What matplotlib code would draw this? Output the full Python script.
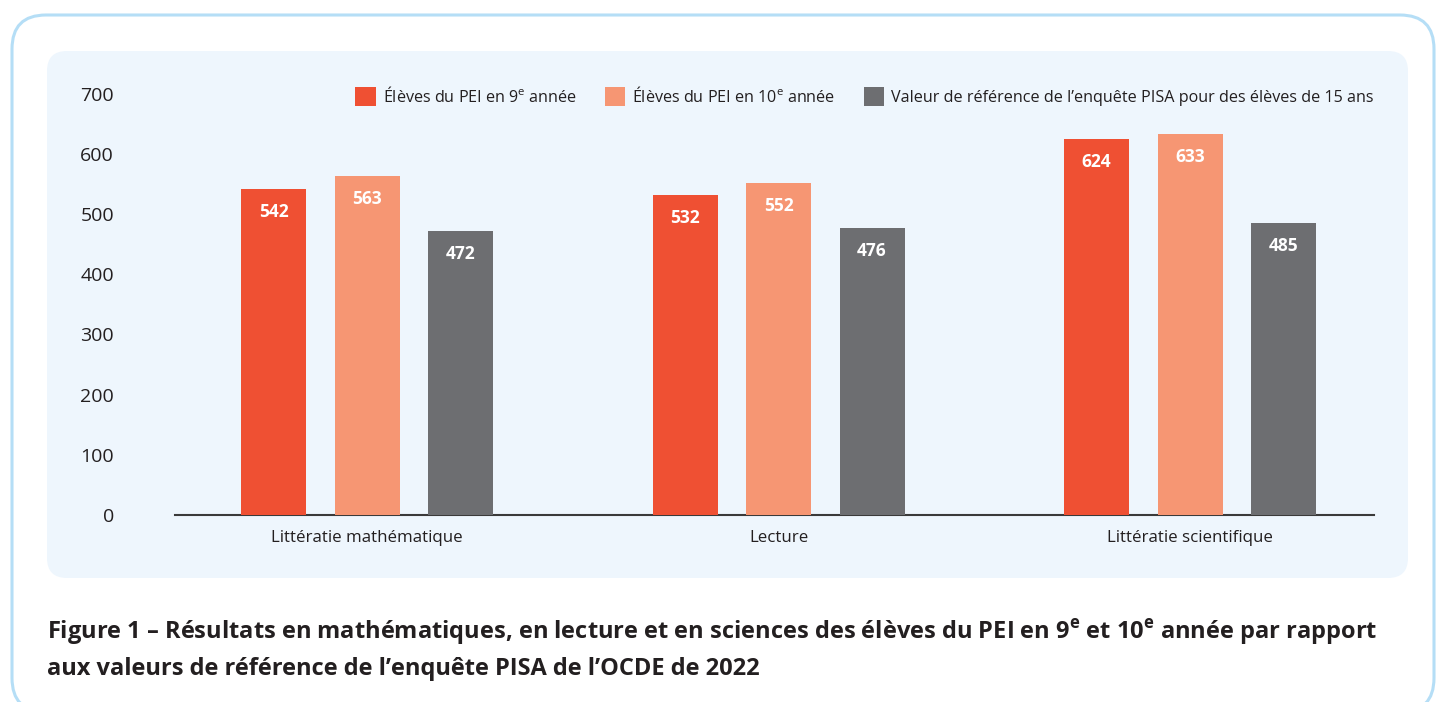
import matplotlib
matplotlib.use("Agg")
import numpy as np
import matplotlib.pyplot as plt
from matplotlib.patches import FancyBboxPatch, Patch

# Données
categories = ["Littératie mathématique", "Lecture", "Littératie scientifique"]
pei_9 = [542, 532, 624]
pei_10 = [563, 552, 633]
pisa_ref = [472, 476, 485]
series_names = [r"Élèves du PEI en 9$^{\mathrm{e}}$ année",
                r"Élèves du PEI en 10$^{\mathrm{e}}$ année",
                "Valeur de référence de l’enquête PISA pour des élèves de 15 ans"]
y_ticks = [0, 100, 200, 300, 400, 500, 600, 700]
caption = ("Figure 1 – Résultats en mathématiques, en lecture et en sciences des élèves du PEI en "
           r"9$^{\mathbf{e}}$ et 10$^{\mathbf{e}}$ année par rapport" "\n"
           "aux valeurs de référence de l’enquête PISA de l’OCDE de 2022")

colors = ["#ef5033", "#f69673", "#6d6e71"]
text_col = "#231f20"

plt.rcParams["font.family"] = ["Open Sans", "DejaVu Sans"]
plt.rcParams["mathtext.fontset"] = "custom"
plt.rcParams["mathtext.rm"] = "Open Sans"
plt.rcParams["mathtext.bf"] = "Open Sans:bold"

W, H = 1436, 702
fig = plt.figure(figsize=(W / 100, H / 100), dpi=100)
fig.patch.set_facecolor("white")


def px_box(x0, y0, x1, y1, r, **kw):
    # boite arrondie en pixels (origine en haut a gauche)
    p = FancyBboxPatch((x0 / 100, (H - y1) / 100), (x1 - x0) / 100, (y1 - y0) / 100,
                       boxstyle="round,pad=0,rounding_size=%f" % (r / 100),
                       transform=fig.dpi_scale_trans, **kw)
    fig.patches.append(p)


# cadre exterieur et panneau interieur
px_box(12, 15, 1434, 712, 34, facecolor="white", edgecolor="#b5def6", lw=2.2, zorder=0)
px_box(47, 51, 1408, 578, 20, facecolor="#eef6fd", edgecolor="none", zorder=1)

ax = fig.add_axes([175 / W, (H - 515) / H, (1374 - 175) / W, (515 - 93.6) / H])
ax.set_facecolor("none")
ax.set_zorder(2)

x = np.arange(len(categories))
width = 0.158
step = 0.227
for i, (vals, name) in enumerate(zip([pei_9, pei_10, pisa_ref], series_names)):
    bars = ax.bar(x + (i - 1) * step, vals, width, color=colors[i], label=name, zorder=3)
    for b, v in zip(bars, vals):
        ax.text(b.get_x() + b.get_width() / 2, v - 38, str(v), ha="center", va="center",
                color="white", fontsize=12.5, fontweight="bold", zorder=4)

ax.set_xlim(-0.467, 2.447)
ax.set_ylim(0, 700)
ax.set_yticks(y_ticks)
ax.set_xticks(x)
ax.set_xticklabels(categories)
ax.tick_params(axis="y", length=0, pad=44, labelsize=14, labelcolor=text_col)
ax.tick_params(axis="x", length=0, pad=11, labelsize=12.2, labelcolor=text_col)
for t in ax.get_yticklabels():
    t.set_horizontalalignment("right")
for s in ["top", "right", "left"]:
    ax.spines[s].set_visible(False)
ax.spines["bottom"].set_color("#3a3a3a")
ax.spines["bottom"].set_linewidth(1.5)

handles = [Patch(facecolor=c, edgecolor="none") for c in colors]
fig.legend(handles, series_names, loc="center right", bbox_to_anchor=(1388 / W, (H - 96) / H),
           ncol=3, frameon=False, fontsize=11.6, handlelength=1.25, handleheight=1.4,
           handletextpad=0.45, columnspacing=1.75, labelcolor=text_col)

fig.text(47 / W, (H - 649) / H, caption, ha="left", va="center", fontsize=17,
         fontweight="bold", color=text_col, linespacing=1.5)

fig.savefig("out.png", dpi=100)
